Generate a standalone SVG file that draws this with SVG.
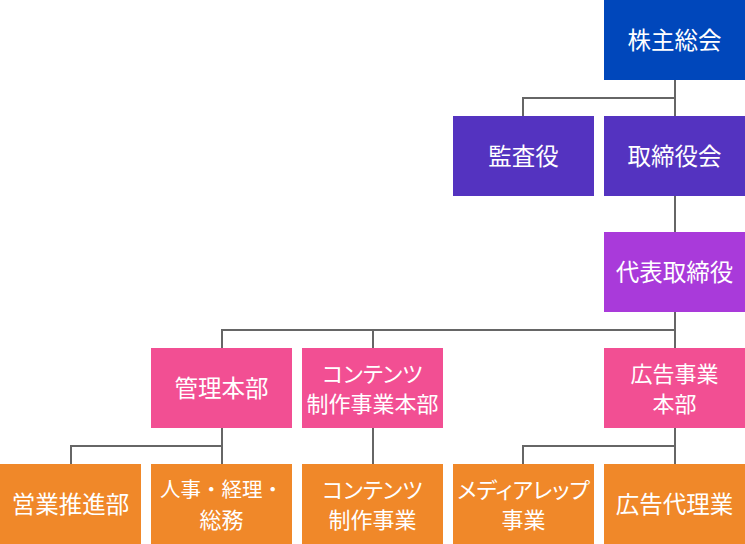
<svg xmlns="http://www.w3.org/2000/svg" width="745" height="544" viewBox="0 0 745 544">
<style>
text{font-family:"Noto Sans CJK JP","Noto Sans CJK SC",sans-serif;fill:#fff;text-anchor:middle;dominant-baseline:central;font-size:23.5px;font-feature-settings:"palt"}
text.m{font-size:22px}
text.n{font-size:20.5px;font-feature-settings:normal}
.c path{fill:none;stroke:#666;stroke-width:2}
.b1{fill:#0047BB}.b2{fill:#5433C0}.b3{fill:#A93ADA}.b4{fill:#F24F93}.b5{fill:#F08829}
</style>
<rect width="745" height="544" fill="#fff"/>
<g class="c" id="connectors">
<path d="M675 80V116M675 98H523V116"/>
<path d="M675 196V232"/>
<path d="M675 312V348M675 330H222V348M373 330V348"/>
<path d="M222 428V464M222 446H71V464"/>
<path d="M373 428V464"/>
<path d="M675 428V464M675 446H523V464"/>
</g>
<g id="n1"><rect class="b1" x="604" y="0" width="141" height="80"/><text x="674.5" y="38.5">株主総会</text></g>
<g id="n2"><rect class="b2" x="453" y="116" width="141" height="80"/><text x="523.5" y="154.5">監査役</text></g>
<g id="n3"><rect class="b2" x="604" y="116" width="141" height="80"/><text x="674.5" y="154.5">取締役会</text></g>
<g id="n4"><rect class="b3" x="604" y="232" width="141" height="80"/><text x="674.5" y="270.5">代表取締役</text></g>
<g id="n5"><rect class="b4" x="151" y="348" width="141" height="80"/><text x="221.5" y="386.5">管理本部</text></g>
<g id="n6"><rect class="b4" x="302" y="348" width="141" height="80"/><text class="m" x="372.5" y="371.5">コンテンツ</text><text class="m" x="372.5" y="401.5">制作事業本部</text></g>
<g id="n7"><rect class="b4" x="604" y="348" width="141" height="80"/><text class="m" x="674.5" y="371.5">広告事業</text><text class="m" x="674.5" y="401.5">本部</text></g>
<g id="n8"><rect class="b5" x="0" y="464" width="141" height="80"/><text x="70.5" y="502.5">営業推進部</text></g>
<g id="n9"><rect class="b5" x="151" y="464" width="141" height="80"/><text class="m n" x="221.5" y="487.5">人事・経理・</text><text class="m" x="221.5" y="517.5">総務</text></g>
<g id="n10"><rect class="b5" x="302" y="464" width="141" height="80"/><text class="m" x="372.5" y="487.5">コンテンツ</text><text class="m" x="372.5" y="517.5">制作事業</text></g>
<g id="n11"><rect class="b5" x="453" y="464" width="141" height="80"/><text class="m" x="523.5" y="487.5">メディアレップ</text><text class="m" x="523.5" y="517.5">事業</text></g>
<g id="n12"><rect class="b5" x="604" y="464" width="141" height="80"/><text x="674.5" y="502.5">広告代理業</text></g>
</svg>
